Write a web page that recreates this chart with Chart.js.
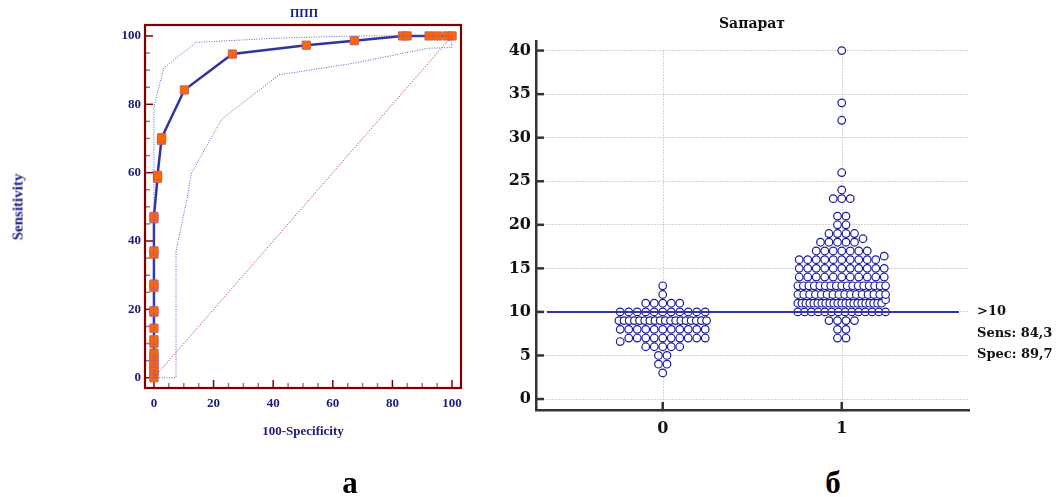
<!DOCTYPE html>
<html><head><meta charset="utf-8">
<script src="https://cdn.jsdelivr.net/npm/chart.js@4.4.0/dist/chart.umd.min.js"></script>
<style>
html,body{margin:0;padding:0;background:#fff;width:1061px;height:497px;overflow:hidden;position:relative}
canvas{position:absolute;top:0}
.t{position:absolute;white-space:nowrap;font-weight:bold;line-height:1}
.ser{font-family:"Liberation Serif","Times New Roman",serif;color:#1a1a80}
.dv{font-family:"DejaVu Serif",serif;color:#111}
</style></head><body>
<canvas id="roc" width="480" height="450" style="left:0"></canvas>
<canvas id="dot" width="581" height="450" style="left:480px"></canvas>
<div class="t ser" style="left:304px;top:13px;font-size:12px;transform:translate(-50%,-50%)">ППП</div>
<div class="t ser" style="left:18px;top:207px;font-size:15px;transform:translate(-50%,-50%) rotate(-90deg)">Sensitivity</div>
<div class="t ser" style="left:303px;top:430px;font-size:13px;transform:translate(-50%,-50%)">100-Specificity</div>
<div class="t dv" style="left:752px;top:23px;font-size:14px;transform:translate(-50%,-50%)">Sапарат</div>
<div id="cutLbl"></div>
<div class="t" style="left:350px;top:482px;font-size:31px;font-family:'Liberation Serif',serif;color:#000;transform:translate(-50%,-50%)">а</div>
<div class="t" style="left:833px;top:482px;font-size:31px;font-family:'Liberation Serif',serif;color:#000;transform:translate(-50%,-50%)">б</div>
<script>
// ---------- Data: ROC curve (panel а) ----------
const rocTickValues = [0, 20, 40, 60, 80, 100];
const rocFpr  = [0, 0, 0, 0, 0, 0, 0, 0, 0, 0, 0, 0, 0, 0, 0, 0, 0, 0, 0, 1.2, 1.2, 2.5, 2.6, 10.2, 26.3, 51.1, 67.2, 83.4, 84.9, 92.3, 95.2, 98.3, 100];
const rocSens = [0, 1.2, 2.2, 3.2, 4.2, 5.2, 6.2, 7.2, 10.1, 11.1, 14.5, 19.2, 19.6, 26.5, 27.4, 36.2, 37.1, 46.5, 47.2, 58.4, 59.2, 69.5, 70.2, 84.2, 94.7, 97.3, 98.6, 100, 100, 100, 100, 100, 100];
const upperFpr  = [0, 0, 3.3, 14.1, 40, 67, 100];
const upperSens = [0, 79.3, 90.6, 98.1, 99.3, 100, 100];
const lowerFpr  = [0, 7.4, 7.4, 11, 12.6, 22.7, 41.9, 66.9, 92, 99.9, 99.9];
const lowerSens = [0, 0, 37, 52, 59.9, 75.6, 88.6, 92, 96.4, 96.6, 100];
const diagFpr  = [0, 100];
const diagSens = [0, 100];

// ---------- Data: dot plot (panel б) ----------
const dotCategories = [0, 1];
const dotTickLabels = ['0', '1'];
const dotYTicks = [0, 5, 10, 15, 20, 25, 30, 35, 40];
const group0Values = [
  13,
  12,
  11, 11, 11, 11, 11,
  10, 10, 10, 10, 10, 10, 10, 10, 10, 10, 10,
  9, 9, 9, 9, 9, 9, 9, 9, 9, 9, 9, 9, 9, 9, 9, 9, 9, 9,
  8, 8, 8, 8, 8, 8, 8, 8, 8, 8, 8,
  6.6, 7, 7, 7, 7, 7, 7, 7, 7, 7, 7,
  6, 6, 6, 6, 6,
  5, 5,
  4, 4,
  3
];
const group1Values = [
  40, 34, 32, 26, 24,
  23, 23, 23,
  21, 21,
  20, 20,
  19, 19, 19, 19,
  18, 18, 18, 18, 18, 18.4,
  17, 17, 17, 17, 17, 17, 17,
  16, 16, 16, 16, 16, 16, 16, 16, 16, 16, 16.4,
  15, 15, 15, 15, 15, 15, 15, 15, 15, 15, 15,
  14, 14, 14, 14, 14, 14, 14, 14, 14, 14, 14,
  13, 13, 13, 13, 13, 13, 13, 13, 13, 13, 13, 13, 13, 13, 13, 13, 13,
  12, 12, 12, 12, 12, 12, 12, 12, 12, 12, 12, 12, 12, 12, 12, 12,
  11, 11, 11, 11, 11, 11, 11, 11, 11, 11, 11, 11, 11, 11, 11, 11, 11, 11, 11, 11, 11, 11, 11.4,
  10, 10, 10, 10, 10, 10, 10, 10, 10, 10, 10, 10, 10, 10,
  9, 9, 9, 9,
  8, 8,
  7, 7
];
const cutoff = 10;
const cutoffLabels = ['>10', 'Sens: 84,3', 'Spec: 89,7'];

// ---------- helpers ----------
const pts = (xs, ys) => xs.map((x, i) => ({x, y: ys[i]}));
function swarm(values, cat) {
  const bins = {};
  values.forEach(v => { const k = Math.round(v); (bins[k] = bins[k] || []).push(v); });
  const out = [];
  Object.keys(bins).forEach(k => {
    const row = bins[k].slice().sort((a, b) => a - b);
    const n = row.length;
    const sp = n > 1 ? Math.min(0.0475, 0.49 / (n - 1)) : 0;
    row.forEach((v, i) => out.push({x: cat + (i - (n - 1) / 2) * sp, y: v}));
  });
  return out;
}

// cutoff labels
const cl = document.getElementById('cutLbl');
cutoffLabels.forEach((t, i) => {
  const d = document.createElement('div');
  d.className = 't dv';
  d.style.cssText = `left:977px;top:${310 + i * 21.5}px;font-size:13px;transform:translateY(-50%)`;
  d.textContent = t;
  cl.appendChild(d);
});

// ---------- Chart а: ROC ----------
const navy = '#1a1a80';
const rocDecor = {
  id: 'rocDecor',
  beforeDatasetsDraw(chart) {
    const {ctx, chartArea: a, scales: {x, y}} = chart;
    ctx.save();
    ctx.lineWidth = 1.5;
    for (let v = 0; v <= 100; v += 5) {
      const major = v % 20 === 0;
      ctx.strokeStyle = major ? '#800000' : '#b07070';
      const len = major ? 8 : 5;
      const px = x.getPixelForValue(v);
      ctx.beginPath(); ctx.moveTo(px, a.bottom); ctx.lineTo(px, a.bottom - len); ctx.stroke();
      const py = y.getPixelForValue(v);
      ctx.beginPath(); ctx.moveTo(a.left, py); ctx.lineTo(a.left + len, py); ctx.stroke();
    }
    ctx.restore();
  },
  afterDraw(chart) {
    const {ctx, chartArea: a} = chart;
    ctx.save();
    ctx.strokeStyle = '#800000'; ctx.lineWidth = 2.2;
    ctx.strokeRect(a.left, a.top, a.right - a.left, a.bottom - a.top);
    ctx.restore();
  }
};
new Chart(document.getElementById('roc'), {
  type: 'scatter',
  data: {datasets: [
    {data: pts(upperFpr, upperSens), showLine: true, borderColor: '#5a5ac8', borderWidth: 1, borderDash: [1, 1.5], pointRadius: 0, tension: 0},
    {data: pts(lowerFpr, lowerSens), showLine: true, borderColor: '#5a5ac8', borderWidth: 1, borderDash: [1, 1.5], pointRadius: 0, tension: 0},
    {data: pts(diagFpr, diagSens), showLine: true, borderColor: '#a03030', borderWidth: 1, borderDash: [1, 1.5], pointRadius: 0},
    {data: pts(rocFpr, rocSens), showLine: true, borderColor: '#3333a0', borderWidth: 2.5, tension: 0,
     pointStyle: 'rect', pointRadius: 5.8, pointBackgroundColor: '#ff6600', pointBorderColor: '#c06070', pointBorderWidth: 1}
  ]},
  options: {
    responsive: false, animation: false, events: [],
    layout: {padding: {left: 0, top: 25, right: 19, bottom: 0}},
    plugins: {legend: {display: false}, tooltip: {enabled: false}},
    scales: {
      x: {type: 'linear', min: -3, max: 103,
          afterBuildTicks: s => { s.ticks = rocTickValues.map(v => ({value: v})); },
          afterFit: s => { s.height = 62; },
          grid: {display: false, drawTicks: false}, border: {display: false},
          ticks: {padding: 8, color: navy, font: {family: 'Liberation Serif', size: 13, weight: 'bold'}}},
      y: {type: 'linear', min: -3, max: 103.2,
          afterBuildTicks: s => { s.ticks = rocTickValues.map(v => ({value: v})); },
          afterFit: s => { s.width = 145; },
          grid: {display: false, drawTicks: false}, border: {display: false},
          ticks: {padding: 4, color: navy, font: {family: 'Liberation Serif', size: 13, weight: 'bold'}}}
    }
  },
  plugins: [rocDecor]
});

// ---------- Chart б: dot plot ----------
const dotDecor = {
  id: 'dotDecor',
  beforeDatasetsDraw(chart) {
    const {ctx, chartArea: a, scales: {x, y}} = chart;
    ctx.save();
    ctx.strokeStyle = '#aaa'; ctx.lineWidth = 1; ctx.setLineDash([1, 2]);
    const topY = y.getPixelForValue(dotYTicks[dotYTicks.length - 1]);
    dotCategories.forEach(c => {
      const px = Math.round(x.getPixelForValue(c)) + 0.5;
      ctx.beginPath(); ctx.moveTo(px, topY); ctx.lineTo(px, a.bottom); ctx.stroke();
    });
    ctx.setLineDash([]);
    ctx.strokeStyle = '#333'; ctx.lineWidth = 2.5;
    dotCategories.forEach(c => {
      const px = x.getPixelForValue(c);
      ctx.beginPath(); ctx.moveTo(px, a.bottom); ctx.lineTo(px, a.bottom - 8); ctx.stroke();
    });
    dotYTicks.forEach(v => {
      const py = y.getPixelForValue(v);
      ctx.beginPath(); ctx.moveTo(a.left, py); ctx.lineTo(a.left + 8, py); ctx.stroke();
    });
    ctx.restore();
  },
  afterDatasetsDraw(chart) {
    const {ctx, chartArea: a, scales: {y}} = chart;
    ctx.save();
    ctx.strokeStyle = '#3535a5'; ctx.lineWidth = 2;
    const py = y.getPixelForValue(cutoff);
    ctx.beginPath(); ctx.moveTo(a.left + 11, py); ctx.lineTo(a.right - 10, py); ctx.stroke();
    ctx.restore();
  }
};
const dotStyle = {pointStyle: 'circle', pointRadius: 3.8, pointBorderWidth: 1.2, pointBorderColor: '#1a1a9a', pointBackgroundColor: '#fff', showLine: false};
new Chart(document.getElementById('dot'), {
  type: 'scatter',
  data: {datasets: [
    Object.assign({data: swarm(group0Values, dotCategories[0])}, dotStyle),
    Object.assign({data: swarm(group1Values, dotCategories[1])}, dotStyle)
  ]},
  options: {
    responsive: false, animation: false, events: [],
    layout: {padding: {left: 0, top: 41, right: 92, bottom: 0}},
    plugins: {legend: {display: false}, tooltip: {enabled: false}},
    scales: {
      x: {type: 'linear', min: -0.708, max: 1.711,
          afterBuildTicks: s => { s.ticks = dotCategories.map(v => ({value: v})); },
          afterFit: s => { s.height = 40; },
          grid: {display: false, drawTicks: false}, border: {display: true, color: '#333', width: 2.5},
          ticks: {padding: 9, color: '#111', font: {family: 'DejaVu Serif', size: 16, weight: 'bold'},
                  callback: (v, i) => dotTickLabels[i]}},
      y: {type: 'linear', min: -1.26, max: 41.1,
          afterBuildTicks: s => { s.ticks = dotYTicks.map(v => ({value: v})); },
          afterFit: s => { s.width = 56; },
          grid: {display: true, color: '#aaa', lineWidth: 1, drawTicks: false},
          border: {display: true, color: '#333', width: 2.5, dash: [1, 2]},
          ticks: {padding: 5, color: '#111', font: {family: 'DejaVu Serif', size: 16, weight: 'bold'}}}
    }
  },
  plugins: [dotDecor]
});
</script>
</body></html>
